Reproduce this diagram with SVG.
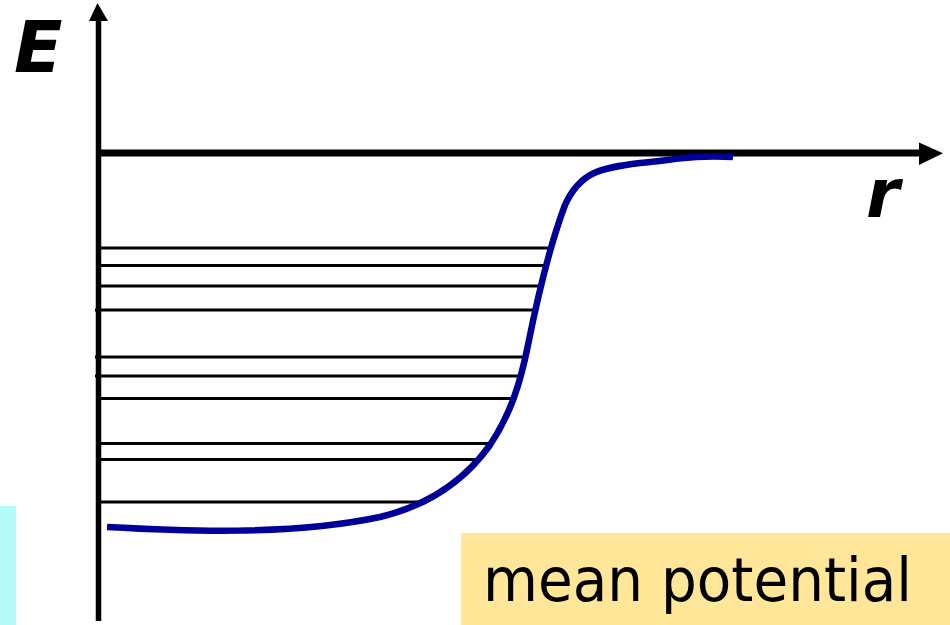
<svg xmlns="http://www.w3.org/2000/svg" width="950" height="625" viewBox="0 0 950 625">
<style>
.lvl{stroke:#000;stroke-width:3;fill:none}
.ax{stroke:#000;fill:none}
.lbl{font-family:"DejaVu Sans","Liberation Sans",sans-serif;font-weight:bold;font-style:italic;fill:#000}
</style>
<rect x="0" y="0" width="950" height="625" fill="#fff"/>
<rect id="cyan-strip" x="0" y="506" width="16" height="119" fill="#B5FBF9"/>
<g id="levels">
<line class="lvl" x1="96" y1="248" x2="550" y2="248"/>
<line class="lvl" x1="96" y1="265.5" x2="546" y2="265.5"/>
<line class="lvl" x1="96" y1="286" x2="543" y2="286"/>
<line class="lvl" x1="95" y1="310" x2="533" y2="310"/>
<line class="lvl" x1="95" y1="357" x2="526" y2="357"/>
<line class="lvl" x1="95" y1="376" x2="523" y2="376"/>
<line class="lvl" x1="96" y1="398.5" x2="513" y2="398.5"/>
<line class="lvl" x1="96" y1="443.5" x2="492" y2="443.5"/>
<line class="lvl" x1="96" y1="459.5" x2="479" y2="459.5"/>
<line class="lvl" x1="96" y1="502" x2="427" y2="502"/>
</g>
<g id="axes">
<line class="ax" x1="98.5" y1="621" x2="98.5" y2="18" stroke-width="5.5"/>
<polygon points="89,21 97.5,3 108,21" fill="#000"/>
<line class="ax" x1="96" y1="153" x2="922" y2="153" stroke-width="7"/>
<polygon points="919,142.5 943,153.3 919,165" fill="#000"/>
</g>
<g id="potential-curve">
<path d="M107,527 C180,531 290,536 380,517 C430,505 465,480 490,445 C510,415 520,385 528,345 C537,300 548,250 565,205 C580,172 600,168 640,163 C675,160 690,155 733,157" fill="none" stroke="#000099" stroke-width="6.5"/>
</g>
<g id="label-E"><text class="lbl" x="14" y="72" font-size="71">E</text></g>
<g id="label-r"><text class="lbl" x="866" y="217" font-size="68">r</text></g>
<g id="mean-potential">
<rect x="461" y="533" width="489" height="92" fill="#FFE699"/>
<text x="483" y="601" font-family="DejaVu Sans, Liberation Sans, sans-serif" font-size="60" textLength="429" lengthAdjust="spacingAndGlyphs" fill="#000">mean potential</text>
</g>
</svg>
